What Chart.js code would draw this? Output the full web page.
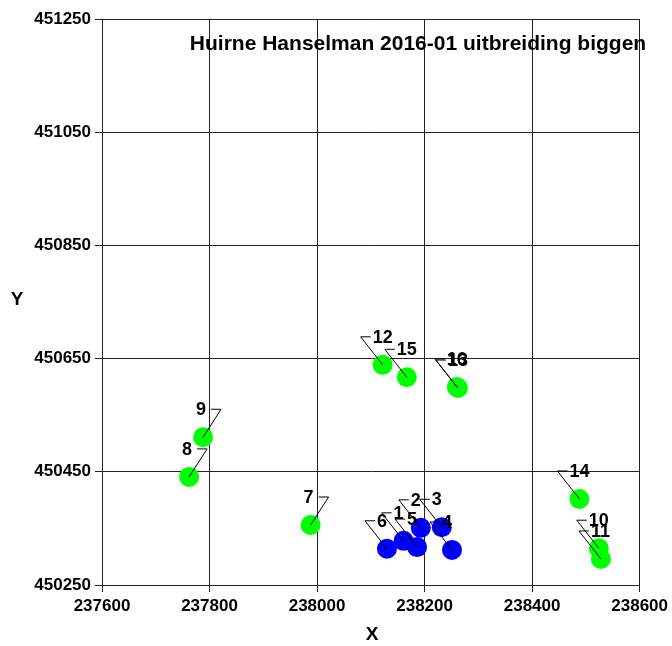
<!DOCTYPE html>
<html>
<head>
<meta charset="utf-8">
<script src="https://cdn.jsdelivr.net/npm/chart.js@4"></script>
<style>
  html, body { margin: 0; padding: 0; background: #fff; }
  #wrap { width: 672px; height: 646px; position: relative; }
</style>
</head>
<body>
<div id="wrap"><canvas id="c" width="672" height="646"></canvas></div>
<script>
// ---- data ----
const chartTitle = 'Huirne Hanselman 2016-01 uitbreiding biggen';
const xTicks = [237600, 237800, 238000, 238200, 238400, 238600];
const yTicks = [450250, 450450, 450650, 450850, 451050, 451250];

const blueNames = ['1', '2', '3', '4', '5', '6'];
const blueX = [238161, 238193, 238232, 238251, 238186, 238130];
const blueY = [450328, 450351, 450352, 450312, 450317, 450314];

const greenNames = ['7', '8', '9', '10', '11', '12', '13', '14', '15', '16'];
const greenX = [237988, 237762, 237788, 238524, 238528, 238122, 238262, 238488, 238167, 238260];
const greenY = [450356, 450441, 450511, 450315, 450296, 450639, 450598, 450402, 450617, 450600];

// labels placed to the left of their leader (others to the right)
const leftLabels = ['7', '8', '9'];

function toPoints(xs, ys) { return xs.map((x, i) => ({ x: x, y: ys[i] })); }

const FONT = '"Liberation Sans", Arial, sans-serif';

const decorPlugin = {
  id: 'decor',
  afterDraw(chart) {
    const ctx = chart.ctx;
    ctx.save();
    chart.data.datasets.forEach((ds, di) => {
      const meta = chart.getDatasetMeta(di);
      const names = di === 0 ? blueNames : greenNames;
      meta.data.forEach((el, i) => {
        const name = names[i];
        const px = el.x, py = el.y;
        const ly = py - 28;
        ctx.strokeStyle = '#000';
        ctx.lineWidth = 1;
        ctx.font = 'bold 18px ' + FONT;
        ctx.fillStyle = '#000';
        ctx.textBaseline = 'middle';
        ctx.beginPath();
        if (leftLabels.includes(name)) {
          const cx = px + 18;
          ctx.moveTo(px, py); ctx.lineTo(cx, ly); ctx.lineTo(px + 8, ly);
          ctx.stroke();
          ctx.textAlign = 'right';
          ctx.fillText(name, px + 3, ly + 1);
        } else {
          const cx = px - 22;
          ctx.moveTo(px, py); ctx.lineTo(cx, ly); ctx.lineTo(px - 12, ly);
          ctx.stroke();
          ctx.textAlign = 'left';
          ctx.fillText(name, px - 10, ly + 1);
        }
      });
    });
    // chart title inside plot
    ctx.textAlign = 'center';
    ctx.textBaseline = 'middle';
    ctx.font = 'bold 21px ' + FONT;
    ctx.fillStyle = '#000';
    ctx.fillText(chartTitle, 418, 44);
    // axis titles
    ctx.font = 'bold 19px ' + FONT;
    ctx.fillText('X', 372, 635);
    ctx.fillText('Y', 17, 300);
    ctx.restore();
  }
};

const tickFont = { family: FONT, size: 17, weight: 'bold' };

new Chart(document.getElementById('c'), {
  type: 'scatter',
  data: {
    datasets: [
      {
        label: 'biggen',
        data: toPoints(blueX, blueY),
        backgroundColor: '#0000ff',
        borderColor: '#0000ff',
        borderWidth: 0,
        pointRadius: 10,
        pointHoverRadius: 10
      },
      {
        label: 'overig',
        data: toPoints(greenX, greenY),
        backgroundColor: '#00ff00',
        borderColor: '#00ff00',
        borderWidth: 0,
        pointRadius: 10,
        pointHoverRadius: 10
      }
    ]
  },
  options: {
    responsive: false,
    animation: false,
    layout: { padding: { left: 0, right: 31, top: 19, bottom: 0 } },
    plugins: {
      legend: { display: false },
      title: { display: false },
      tooltip: { enabled: false }
    },
    scales: {
      x: {
        type: 'linear',
        min: xTicks[0],
        max: xTicks[xTicks.length - 1],
        z: 1,
        afterBuildTicks(scale) { scale.ticks = xTicks.map(v => ({ value: v })); },
        afterFit(scale) { scale.height = 61; },
        ticks: {
          font: tickFont,
          color: '#000',
          padding: 4,
          maxRotation: 0,
          autoSkip: false,
          callback: v => String(v)
        },
        grid: { color: '#222', lineWidth: 1, tickLength: 7 },
        border: { color: '#222', width: 1 }
      },
      y: {
        type: 'linear',
        min: yTicks[0],
        max: yTicks[yTicks.length - 1],
        z: 1,
        afterBuildTicks(scale) { scale.ticks = yTicks.map(v => ({ value: v })); },
        afterFit(scale) { scale.width = 102; },
        ticks: {
          font: tickFont,
          color: '#000',
          padding: 4,
          autoSkip: false,
          callback: v => String(v)
        },
        grid: { color: '#222', lineWidth: 1, tickLength: 7 },
        border: { color: '#222', width: 1 }
      }
    }
  },
  plugins: [decorPlugin]
});
</script>
</body>
</html>
